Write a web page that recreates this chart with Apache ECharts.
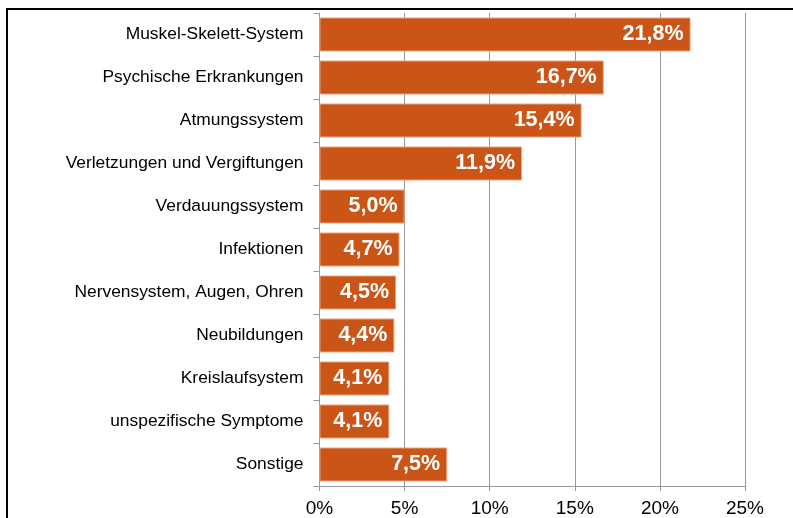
<!doctype html>
<html>
<head>
    <meta charset="utf-8">
    <script src="https://cdn.jsdelivr.net/npm/echarts@6/dist/echarts.min.js"></script>
</head>
<body style="margin: 0; width: 793px; height: 518px; overflow: hidden; background: #fff">
    <div id="container" style="width: 793px; height: 518px"></div>
    <script type="text/javascript">
        var categories = ['Muskel-Skelett-System', 'Psychische Erkrankungen', 'Atmungssystem',
            'Verletzungen und Vergiftungen', 'Verdauungssystem', 'Infektionen',
            'Nervensystem, Augen, Ohren', 'Neubildungen', 'Kreislaufsystem',
            'unspezifische Symptome', 'Sonstige'];
        var shares = [21.8, 16.7, 15.4, 11.9, 5.0, 4.7, 4.5, 4.4, 4.1, 4.1, 7.5];
        var ticks = [0, 5, 10, 15, 20, 25];

        var dom = document.getElementById('container');
        var myChart = echarts.init(dom);

        var option = {
            animation: false,
            textStyle: { fontFamily: 'Liberation Sans, Arial, sans-serif' },
            graphic: [{
                type: 'rect',
                shape: { x: 7, y: 9, width: 900, height: 600 },
                style: { fill: 'none', stroke: '#000', lineWidth: 2 }
            }],
            grid: { left: 319.5, right: 48, top: 13, bottom: 31 },
            xAxis: {
                type: 'value',
                min: ticks[0],
                max: ticks[ticks.length - 1],
                interval: 5,
                axisLine: { show: true, lineStyle: { color: '#999' } },
                axisTick: { show: true, length: 5, lineStyle: { color: '#999' } },
                splitLine: { show: true, lineStyle: { color: '#999', width: 1 } },
                axisLabel: {
                    color: '#000', fontSize: 19, margin: 13,
                    formatter: function (v) { return v + '%'; }
                }
            },
            yAxis: {
                type: 'category',
                inverse: true,
                data: categories,
                axisLine: { show: true, lineStyle: { color: '#999' } },
                axisTick: { show: true, length: 6, lineStyle: { color: '#999' } },
                axisLabel: { color: '#000', fontSize: 17.4, margin: 16 }
            },
            series: [{
                type: 'bar',
                data: shares,
                barCategoryGap: '21%',
                itemStyle: { color: '#CA5517', borderColor: '#E9A27C', borderWidth: 1 },
                label: {
                    show: true,
                    position: 'insideRight',
                    distance: 7,
                    color: '#fff',
                    fontWeight: 'bold',
                    fontSize: 21.5,
                    formatter: function (p) { return p.value.toFixed(1).replace('.', ',') + '%'; }
                }
            }]
        };
        myChart.setOption(option);
    </script>
</body>
</html>
